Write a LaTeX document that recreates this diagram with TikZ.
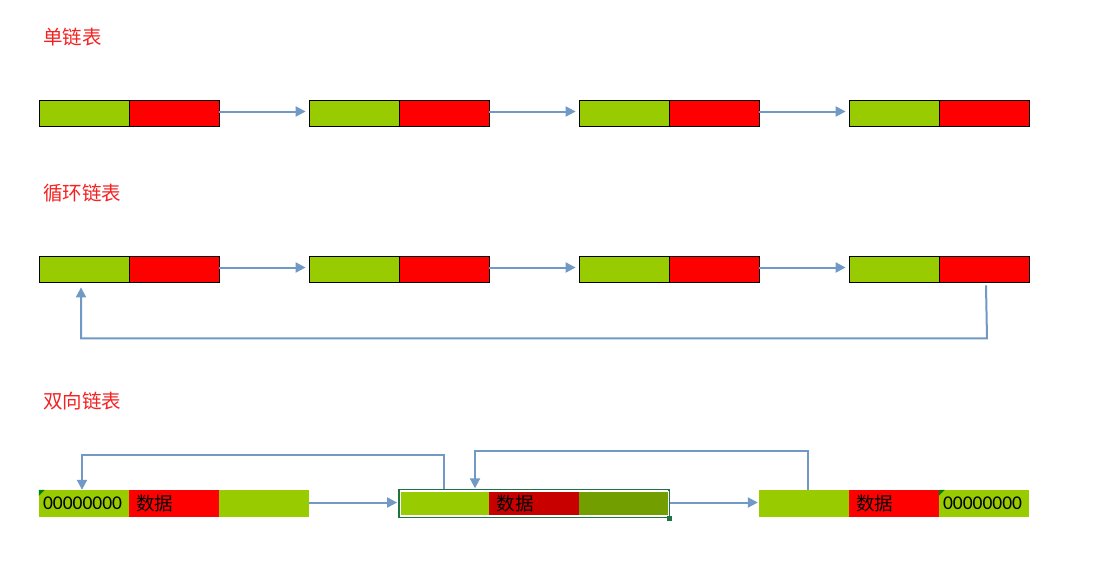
\documentclass[tikz,border=0pt]{standalone}
\usepackage{fontspec}
\setmainfont{Carlito}
\newfontfamily\cjk{Noto Sans CJK SC}
\usetikzlibrary{arrows.meta,calc}
\definecolor{lgreen}{HTML}{99CC00}
\definecolor{dgreen}{HTML}{739E00}
\definecolor{dred}{HTML}{C80000}
\definecolor{arrowblue}{HTML}{7099C6}
\definecolor{selgreen}{HTML}{217346}
\definecolor{titlered}{HTML}{F42222}
\tikzset{
  cell/.style={draw=black, line width=0.8pt, minimum width=90pt, minimum height=26pt, inner sep=0pt},
  gcell/.style={cell, fill=lgreen},
  rcell/.style={cell, fill=red},
  flat/.style={minimum width=90pt, minimum height=27pt, inner sep=0pt},
  numtext/.style={text width=82pt, inner xsep=4pt, align=left, font=\fontsize{19.5}{20}\selectfont},
  cjktext/.style={text width=76pt, inner xsep=7pt, align=left, font=\cjk\fontsize{18.5}{20}\selectfont},
  arr/.style={draw=arrowblue, line width=2pt, -{Triangle[length=10pt,width=10pt]}},
  title/.style={anchor=west, text=titlered, font=\cjk\fontsize{19.5}{20}\selectfont, inner sep=0pt},
  corner/.style={fill=green!50!black}
}
\begin{document}
\begin{tikzpicture}[x=1pt,y=-1pt]
\path[use as bounding box, fill=white] (0,0) rectangle (1098,581);

% titles
\node[title] (t1) at (43,37) {单链表};
\node[title] (t2) at (43,193) {循环链表};
\node[title] (t3) at (43,401) {双向链表};

% row 1 : singly linked list
\foreach \i/\x in {1/84,2/354,3/624,4/894}{
  \node[gcell] (a\i g) at (\x,113) {};
  \node[rcell] (a\i r) at (\x+90,113) {};
}
\foreach \i/\j in {1/2,2/3,3/4}{
  \draw[arr, shorten >=3pt] ([yshift=1.5pt]a\i r.east) -- ([yshift=1.5pt]a\j g.west);
}

% row 2 : circular linked list
\foreach \i/\x in {1/84,2/354,3/624,4/894}{
  \node[gcell] (b\i g) at (\x,269) {};
  \node[rcell] (b\i r) at (\x+90,269) {};
}
\foreach \i/\j in {1/2,2/3,3/4}{
  \draw[arr, shorten >=3pt] ([yshift=1.5pt]b\i r.east) -- ([yshift=1.5pt]b\j g.west);
}
\draw[arr] ($(b4r.south)+(2,3)$) -- ($(b4r.south)+(3,56)$) -| ($(b1g.south)+(-3,5)$);

% row 3 : doubly linked list
% left node
\node[flat, fill=lgreen, numtext] (c1a) at (84,503.5) {00000000};
\node[flat, fill=red, cjktext] (c1b) at (174,503.5) {数据};
\node[flat, fill=lgreen] (c1c) at (264,503.5) {};
\fill[corner] (c1a.north west) -- ++(6,0) -- ++(-6,6) -- cycle;

% middle node (selected)
\node[minimum width=270pt, minimum height=28pt, inner sep=0pt, draw=selgreen, line width=1.8pt] (m) at (534,503.5) {};
\node[minimum width=88pt, minimum height=24pt, inner sep=0pt, fill=lgreen] (m1) at (445,503.5) {};
\node[minimum width=90pt, minimum height=24pt, inner sep=0pt, fill=dred, cjktext, text width=75pt, inner xsep=7.5pt] (m2) at (534,503.5) {数据};
\node[minimum width=89pt, minimum height=24pt, inner sep=0pt, fill=dgreen] (m3) at (623.5,503.5) {};
\draw[white, line width=1pt] (m1.north west) rectangle (m3.south east);
\fill[selgreen] ($(m.south east)+(-2.5,-2.5)$) rectangle ++(5,5);

% right node
\node[flat, fill=lgreen] (c3a) at (804,503.5) {};
\node[flat, fill=red, cjktext] (c3b) at (894,503.5) {数据};
\node[flat, fill=lgreen, numtext] (c3c) at (984,503.5) {00000000};
\fill[corner] (c3c.north west) -- ++(6,0) -- ++(-6,6) -- cycle;

% forward arrows
\draw[arr, shorten >=1pt] ([yshift=1pt]c1c.east) -- ([yshift=1pt]m.west);
\draw[arr, shorten >=1pt] ([yshift=1pt]m.east) -- ([yshift=1pt]c3a.west);

% backward arrows
\draw[arr] ($(m1.north)+(-1,-2)$) -- ($(m1.north)+(-1,-36)$) -| ($(c1a.north)+(-2,0)$);
\draw[arr] ($(c3a.north)+(4,0)$) -- ($(c3a.north)+(4,-39)$) -| ($(m1.north)+(30,-3)$);
\end{tikzpicture}
\end{document}
